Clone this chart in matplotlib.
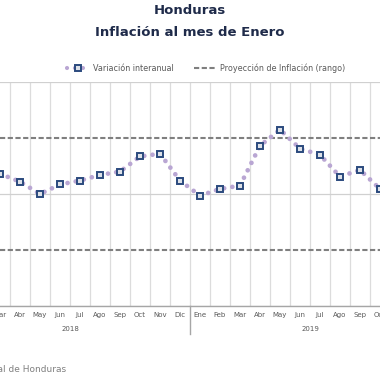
import matplotlib
matplotlib.use("Agg")
import matplotlib.pyplot as plt
from matplotlib.lines import Line2D
import matplotlib.transforms as mtransforms

# ---- data ----
months = ["Ene", "Feb", "Mar", "Abr", "May", "Jun", "Jul", "Ago", "Sep", "Oct", "Nov", "Dic",
          "Ene", "Feb", "Mar", "Abr", "May", "Jun", "Jul", "Ago", "Sep", "Oct", "Nov", "Dic"]
years = ["2018", "2019"]
# interannual inflation (%) from Mar 2018 to Oct 2019
start_index = 2
inflation = [4.36, 4.22, 4.00, 4.17, 4.24, 4.34, 4.40, 4.67, 4.72, 4.24,
             3.97, 4.09, 4.15, 4.86, 5.15, 4.81, 4.70, 4.31, 4.43, 4.09]
target_low = 3.0
target_high = 5.0
yticks = [2, 4, 6]

W = H = 380
fig = plt.figure(figsize=(3.8, 3.8), dpi=100)
fig.patch.set_facecolor("white")

def fx(px):
    return px / W

def fy(py):
    return 1 - py / H

ax = fig.add_axes([0, fy(306), 1, (306 - 82) / H])
x = list(range(start_index, start_index + len(inflation)))

LINE_C = "#B9A6D3"
EDGE_C = "#2B4A7E"
FACE_C = "#DDE1E8"

# grid
ax.set_yticks(yticks)
ax.set_yticklabels([])
ax.set_xticks(range(len(months)))
ax.set_xticklabels(months)
ax.set_xticks([i + 0.5 for i in range(-1, len(months))], minor=True)
ax.grid(True, which="minor", axis="x", color="#dcdcdc", lw=0.9)
ax.grid(True, which="major", axis="y", color="#d0d0d0", lw=0.9)
ax.tick_params(axis="both", which="both", length=0)
ax.tick_params(axis="x", which="major", labelsize=5, labelcolor="#595959", pad=4)
for s in ["top", "right", "left"]:
    ax.spines[s].set_visible(False)
ax.spines["bottom"].set_color("#a6a6a6")
ax.spines["bottom"].set_linewidth(1.0)
ax.set_axisbelow(True)

# target band lines
ax.axhline(target_high, color="#7f7f7f", lw=1.5, ls=(0, (2.5, 1.2)), zorder=2)
ax.axhline(target_low, color="#7f7f7f", lw=1.5, ls=(0, (2.5, 1.2)), zorder=2)

# series
ax.plot(x, inflation, color=LINE_C, lw=3.4, ls=(0, (0.01, 1.75)),
        dash_capstyle="round", zorder=3)
ax.plot(x, inflation, ls="none", marker="s", ms=5, mfc=FACE_C,
        mec=EDGE_C, mew=1.4, zorder=4, clip_on=False)

# year labels and separators
trans = mtransforms.blended_transform_factory(ax.transData, ax.transAxes)
for k, yr in enumerate(years):
    ax.text(5.5 + 12 * k, -0.103, yr, transform=trans, ha="center", va="center",
            fontsize=5, color="#595959")
ax.plot([11.5, 11.5], [0, -0.125], transform=trans, color="#a6a6a6", lw=1.0,
        clip_on=False)

ax.set_xlim(2, 21)
ax.set_ylim(2, 6)

# titles
fig.text(fx(190), fy(10), "Honduras", ha="center", va="center", fontsize=9.5,
         fontweight="bold", color="#1F2B4A")
fig.text(fx(190), fy(33), "Inflación al mes de Enero", ha="center", va="center",
         fontsize=9.5, fontweight="bold", color="#1F2B4A")

# legend
h1 = Line2D([], [], color=LINE_C, lw=3.0, ls=(0, (0.01, 1.9)), dash_capstyle="round",
            marker="s", ms=5, mfc=FACE_C, mec=EDGE_C, mew=1.4)
h2 = Line2D([], [], color="#7f7f7f", lw=1.5, ls=(0, (2.5, 1.2)))
leg = fig.legend([h1, h2], ["Variación interanual", "Proyección de Inflación (rango)"],
                 loc="center", bbox_to_anchor=(fx(206), fy(68)), ncol=2, frameon=False,
                 fontsize=5.8, handlelength=2.6, handletextpad=0.55, columnspacing=2.6,
                 numpoints=1)
for t in leg.get_texts():
    t.set_color("#595959")

# source
fig.text(fx(66), fy(370), "Fuente: Banco Central de Honduras", ha="right", va="center",
         fontsize=6.5, color="#808080")

fig.savefig("out.png", dpi=100)
